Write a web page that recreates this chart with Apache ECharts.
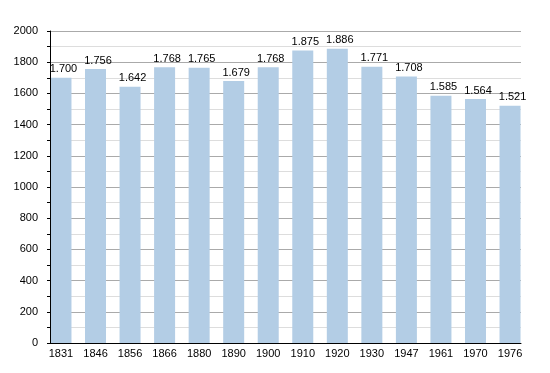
<!DOCTYPE html>
<html>
<head>
<meta charset="utf-8">
<script src="https://cdn.jsdelivr.net/npm/echarts@6/dist/echarts.min.js"></script>
<style>html,body{margin:0;padding:0;background:#fff}#c{width:550px;height:373px}</style>
</head>
<body>
<div id="c"></div>
<script>
const years = ['1831','1846','1856','1866','1880','1890','1900','1910','1920','1930','1947','1961','1970','1976'];
const population = [1700,1756,1642,1768,1765,1679,1768,1875,1886,1771,1708,1585,1564,1521];
const yMin = 0, yMax = 2000, yStep = 200;

const font = 'Liberation Sans, Arial, sans-serif';
const chart = echarts.init(document.getElementById('c'));
chart.setOption({
  animation: false,
  backgroundColor: '#fff',
  grid: [
    {left: 43.7, right: 22.7, top: 31, bottom: 30},
    {left: 50, right: 29, top: 31, bottom: 30}
  ],
  xAxis: [
    {gridIndex: 0, type: 'category', data: years,
     axisLine: {show: false}, axisTick: {show: false},
     axisLabel: {color: '#000', fontFamily: font, fontSize: 11, margin: 5}},
    {gridIndex: 1, type: 'value', min: 0, max: 1, z: 5,
     axisLine: {show: true, onZero: false, lineStyle: {color: '#000', width: 1}},
     axisTick: {show: false}, axisLabel: {show: false}, splitLine: {show: false}}
  ],
  yAxis: [
    {gridIndex: 0, type: 'value', min: yMin, max: yMax, interval: yStep, show: false, splitLine: {show: false}},
    {gridIndex: 1, type: 'value', min: yMin, max: yMax, interval: yStep, z: 0,
     axisLine: {show: false}, axisTick: {show: false}, axisLabel: {show: false},
     splitLine: {show: true, lineStyle: {color: '#aaaaaa', width: 1}},
     minorTick: {show: false, splitNumber: 2},
     minorSplitLine: {show: true, lineStyle: {color: '#dddddd', width: 1}}},
    {gridIndex: 1, type: 'value', min: yMin, max: yMax, interval: yStep, z: 5, position: 'left',
     axisLine: {show: true, lineStyle: {color: '#000', width: 1}},
     axisTick: {show: true, length: 3, lineStyle: {color: '#000'}},
     minorTick: {show: true, splitNumber: 2, length: 3, lineStyle: {color: '#000'}},
     axisLabel: {color: '#000', fontFamily: font, fontSize: 11, margin: 12, formatter: v => String(v)},
     splitLine: {show: false}}
  ],
  series: [{
    type: 'bar', xAxisIndex: 0, yAxisIndex: 0,
    data: population, barWidth: 21,
    itemStyle: {color: '#b3cde5'},
    label: {show: true, position: 'top', distance: 3, offset: [2.5, 0], color: '#000', fontFamily: font, fontSize: 11,
      formatter: p => String(p.value).replace(/\B(?=(\d{3})+(?!\d))/g, '.')}
  }]
});
</script>
</body>
</html>
